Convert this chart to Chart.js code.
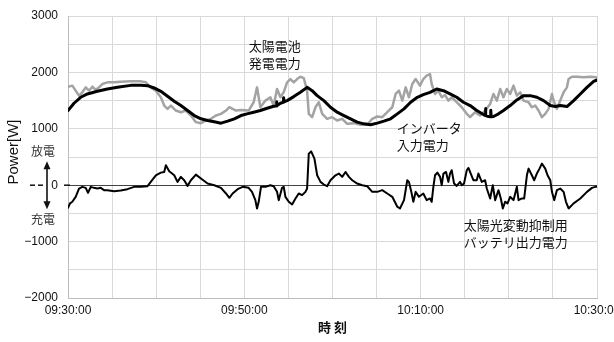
<!DOCTYPE html>
<html>
<head>
<meta charset="utf-8">
<script src="https://cdn.jsdelivr.net/npm/chart.js@4.4.1/dist/chart.umd.min.js"></script>
<style>
  html, body { margin: 0; padding: 0; background: #fff; overflow: hidden; }
  #wrap { width: 614px; height: 342px; }
</style>
</head>
<body>
<div id="wrap"><canvas id="c" width="614" height="342"></canvas></div>
<script>
// Time axis: minutes after 09:30:00, labelled every 20 minutes
const timeLabels = ['09:30:00', '09:50:00', '10:10:00', '10:30:00'];
const powerLabels = ['\u22122000', '\u22121000', '0', '1000', '2000', '3000'];

// 太陽電池発電電力 [minute, W]
const pvPower = [
  [0,1747],[0.49,1765],[0.87,1676],[1.25,1588],[1.63,1647],[2.01,1735],[2.39,1676],[2.76,1747],
  [3.14,1688],[3.52,1735],[3.9,1794],[4.47,1824],[5.23,1824],[5.98,1835],[7.12,1841],[8.26,1841],
  [8.83,1824],[9.39,1735],[9.96,1676],[10.53,1559],[10.91,1412],[11.29,1353],[11.67,1412],[12.23,1324],
  [12.8,1294],[13.37,1324],[13.94,1235],[14.51,1118],[15.08,1100],[15.64,1147],[16.21,1177],[16.78,1235],
  [17.35,1265],[17.92,1324],[18.3,1383],[18.67,1353],[19.05,1324],[19.62,1335],[20.49,1324],[21.06,1471],
  [21.44,1735],[21.82,1382],[22.39,1500],[22.95,1559],[23.33,1412],[23.71,1706],[24.09,1559],[24.47,1650],
  [24.85,1824],[25.23,1882],[25.61,1824],[25.98,1882],[26.36,1924],[26.74,1900],[27.12,1676],[27.31,1265],
  [27.69,1206],[28.07,1382],[28.45,1471],[28.83,1265],[29.39,1177],[29.96,1206],[30.53,1147],[31.1,1177],
  [31.67,1088],[32.42,1100],[33.18,1071],[33.94,1071],[34.51,1177],[35.08,1218],[35.64,1206],[36.21,1294],
  [36.78,1382],[37.16,1618],[37.54,1676],[37.92,1500],[38.3,1735],[38.67,1559],[39.05,1794],[39.43,1882],
  [39.92,1765],[40.3,1882],[40.68,1941],[41.06,1970],[41.25,1794],[41.63,1618],[42.01,1676],[42.39,1559],
  [42.76,1600],[43.14,1500],[43.52,1559],[44.09,1471],[44.66,1382],[45.23,1265],[45.61,1206],[46.17,1294],
  [46.74,1235],[47.31,1324],[47.88,1441],[48.26,1618],[48.64,1500],[49.02,1706],[49.39,1559],[49.77,1706],
  [50.15,1618],[50.53,1765],[50.91,1588],[51.29,1647],[51.67,1500],[52.24,1471],[52.61,1382],[52.99,1412],
  [53.37,1324],[53.75,1206],[54.13,1265],[54.51,1353],[54.89,1618],[55.08,1500],[55.45,1353],[55.83,1500],
  [56.21,1647],[56.59,1735],[56.78,1882],[57.16,1924],[57.73,1924],[58.48,1912],[59.24,1924],[60,1912]
];

// インバータ入力電力 [minute, W]
const inverterInput = [
  [0,1324],[0.68,1453],[1.44,1559],[2.2,1618],[3.33,1665],[4.47,1706],[5.61,1735],[7.12,1770],
  [8.26,1770],[9.02,1765],[9.77,1724],[10.53,1665],[11.29,1577],[12.05,1488],[12.8,1412],[13.56,1324],
  [14.32,1235],[15.08,1177],[15.83,1147],[16.59,1124],[17.35,1100],[18.11,1135],[18.86,1177],[19.62,1235],
  [20.3,1265],[21.06,1294],[21.82,1324],[22.58,1365],[23.33,1400],[23.6,1405],[23.65,1480],[23.7,1410],
  [24.09,1453],[24.4,1470],[24.45,1550],[24.5,1478],[24.85,1500],[25.61,1571],[26.36,1647],[27.12,1735],
  [27.69,1676],[28.26,1588],[29.02,1500],[29.77,1382],[30.53,1294],[31.29,1235],[32.05,1177],[32.8,1118],
  [33.56,1088],[34.32,1071],[35.08,1100],[35.83,1135],[36.59,1177],[37.35,1265],[38.11,1353],[38.86,1471],
  [39.62,1559],[40.3,1606],[41.06,1647],[41.82,1706],[42.58,1676],[43.33,1618],[44.09,1559],[44.85,1471],
  [45.61,1412],[46.36,1324],[47.12,1253],[47.3,1240],[47.35,1360],[47.4,1235],[47.69,1218],[47.9,1215],
  [47.95,1330],[48.0,1215],[48.26,1218],[48.83,1265],[49.39,1324],[50.15,1412],[50.91,1512],[51.67,1588],
  [52.42,1588],[53.18,1559],[53.94,1500],[54.7,1412],[55.27,1394],[55.83,1412],[56.59,1394],[57.35,1500],
  [58.11,1618],[58.86,1735],[59.62,1841],[60,1865]
];

// 太陽光変動抑制用バッテリ出力電力 [minute, W] (放電 +, 充電 −)
const batteryOutput = [
  [0,-400],[0.23,-323],[0.49,-294],[0.87,-206],[1.25,-59],[1.63,-29],[2.01,-47],[2.27,-135],
  [2.58,-29],[2.95,-47],[3.33,-59],[3.71,-47],[4.09,-88],[4.47,-88],[5.23,-106],[5.98,-94],
  [6.74,-70],[7.5,-29],[8.26,-29],[9.02,-18],[9.39,59],[9.96,176],[10.53,223],[10.91,235],
  [11.1,353],[11.48,247],[12.05,176],[12.42,59],[12.8,147],[13.18,88],[13.56,-12],[13.94,88],
  [14.51,188],[15.08,118],[15.83,29],[16.59,0],[17.35,-47],[17.92,-147],[18.3,-223],[18.67,-147],
  [19.24,-70],[19.81,-29],[20.49,-47],[20.87,-118],[21.25,-265],[21.44,-412],[21.63,-294],[21.89,-29],
  [22.39,-29],[22.95,0],[23.33,-18],[23.71,-118],[23.9,-265],[24.28,-47],[24.47,-29],[24.66,-206],
  [25.04,-294],[25.42,-341],[25.8,-235],[26.17,-147],[26.55,-176],[26.93,-118],[27.12,-59],[27.31,559],
  [27.58,600],[27.95,470],[28.26,176],[28.64,59],[29.02,12],[29.39,-18],[29.77,88],[30.34,176],
  [30.72,206],[31.1,147],[31.48,235],[31.86,147],[32.24,88],[32.8,29],[33.37,0],[33.94,-18],
  [34.51,-118],[35.08,-118],[35.64,-88],[36.21,-147],[36.78,-206],[37.35,-382],[37.65,-412],[38.11,-265],
  [38.48,88],[38.67,59],[38.94,-118],[39.17,-294],[39.43,-118],[39.81,-206],[40.3,-147],[40.68,-265],
  [41.06,-235],[41.25,-294],[41.44,-29],[41.63,176],[41.89,223],[42.2,147],[42.39,0],[42.58,206],
  [42.88,235],[43.14,59],[43.33,206],[43.52,265],[43.79,29],[44.09,-12],[44.47,59],[44.66,0],
  [44.92,29],[45.23,265],[45.42,306],[45.68,206],[45.98,88],[46.36,88],[46.55,206],[46.93,59],
  [47.31,88],[47.5,-59],[47.88,-235],[48.18,0],[48.45,-265],[48.83,-88],[49.09,-235],[49.32,-412],
  [49.58,-294],[49.85,-323],[50.15,-206],[50.53,-265],[50.91,-29],[51.1,-265],[51.48,-235],[51.74,-235],
  [52.05,176],[52.24,294],[52.61,176],[52.88,88],[53.18,206],[53.48,294],[53.75,382],[54.13,294],
  [54.39,176],[54.7,88],[54.89,-118],[55.15,-265],[55.45,-88],[55.83,-59],[56.21,-118],[56.48,-294],
  [56.78,-412],[57.35,-323],[58.11,-235],[58.86,-118],[59.43,-47],[59.81,-29],[60,-29]
];

const toPoints = arr => arr.map(([x, y]) => ({ x, y }));

const JP = '"Noto Sans CJK JP", "Noto Sans", sans-serif';
const LAT = '"Liberation Sans", Arial, sans-serif';

// Series captions, the power-axis title and the charge/discharge marker
const captions = {
  id: 'captions',
  afterDatasetsDraw(chart) {
    const { ctx, scales: { x, y } } = chart;
    ctx.save();
    ctx.fillStyle = '#111';
    ctx.textBaseline = 'middle';
    ctx.textAlign = 'left';
    ctx.font = '13px ' + JP;
    const put = (lines, t, w) => {
      const px = x.getPixelForValue(t), py = y.getPixelForValue(w);
      lines.forEach((s, i) => ctx.fillText(s, px, py + i * 17));
    };
    put(['太陽電池', '発電電力'], 20.5, 2470);
    put(['インバータ', '入力電力'], 37.3, 1010);
    put(['太陽光変動抑制用', 'バッテリ出力電力'], 44.9, -700);

    // power axis title
    ctx.save();
    ctx.translate(14, (y.top + y.bottom) / 2 - 5);
    ctx.rotate(-Math.PI / 2);
    ctx.textAlign = 'center';
    ctx.font = '15px ' + LAT;
    ctx.fillText('Power[W]', 0, 0);
    ctx.restore();

    // 放電 / 充電 arrow
    const y0 = y.getPixelForValue(0);
    const ax = 47;
    ctx.strokeStyle = '#111';
    ctx.fillStyle = '#111';
    ctx.lineWidth = 1.6;
    ctx.beginPath();
    ctx.moveTo(ax, y0 - 19);
    ctx.lineTo(ax, y0 + 19);
    ctx.stroke();
    ctx.beginPath();
    ctx.moveTo(ax, y0 - 24); ctx.lineTo(ax - 3.5, y0 - 16); ctx.lineTo(ax + 3.5, y0 - 16); ctx.closePath();
    ctx.fill();
    ctx.beginPath();
    ctx.moveTo(ax, y0 + 24); ctx.lineTo(ax - 3.5, y0 + 16); ctx.lineTo(ax + 3.5, y0 + 16); ctx.closePath();
    ctx.fill();
    // dashed zero marker
    ctx.lineWidth = 1.5;
    [[30, 35], [38, 43], [64, 70]].forEach(([a, b]) => {
      ctx.beginPath(); ctx.moveTo(a, y0); ctx.lineTo(b, y0); ctx.stroke();
    });
    ctx.font = '12px ' + JP;
    ctx.textAlign = 'center';
    ctx.fillStyle = '#333';
    ctx.fillText('放電', 43, y0 - 34);
    ctx.fillText('充電', 43, y0 + 34);
    ctx.restore();
  }
};

new Chart(document.getElementById('c'), {
  type: 'line',
  data: {
    datasets: [
      { label: 'インバータ入力電力', data: toPoints(inverterInput), borderColor: '#000', borderWidth: 3, order: 0 },
      { label: '太陽光変動抑制用バッテリ出力電力', data: toPoints(batteryOutput), borderColor: '#000', borderWidth: 2, order: 1 },
      { label: '太陽電池発電電力', data: toPoints(pvPower), borderColor: '#a3a3a3', borderWidth: 2.5, order: 2 }
    ]
  },
  options: {
    responsive: false,
    animation: false,
    devicePixelRatio: 1,
    elements: { point: { radius: 0 }, line: { tension: 0, borderJoinStyle: 'round', borderCapStyle: 'round' } },
    layout: { padding: { top: 16, right: 17, left: 0, bottom: 0 } },
    plugins: { legend: { display: false }, tooltip: { enabled: false } },
    scales: {
      x: {
        type: 'linear', min: 0, max: 60,
        ticks: {
          stepSize: 5, autoSkip: false, maxRotation: 0, padding: 5, color: '#111',
          font: { family: LAT, size: 12 },
          callback: v => (v % 20 === 0 ? timeLabels[v / 20] : '')
        },
        grid: { color: '#d9d9d9', drawTicks: false },
        border: { color: '#bdbdbd' },
        title: { display: true, text: '時 刻', color: '#111', font: { family: JP, size: 13, weight: 'bold' }, padding: { top: 0, bottom: 7 } },
        afterFit(s) { s.paddingLeft = 0; s.paddingRight = 0; s.height = 44; }
      },
      y: {
        min: -2000, max: 3000,
        ticks: {
          stepSize: 500, padding: 10, color: '#111',
          font: { family: LAT, size: 12 },
          callback: v => (v % 1000 === 0 ? powerLabels[(v + 2000) / 1000] : '')
        },
        grid: { color: ctx => (ctx.tick && ctx.tick.value === 0 ? '#444' : '#d9d9d9'), drawTicks: false },
        border: { color: '#bdbdbd' },
        afterFit(s) { s.width = 68; s.paddingTop = 0; s.paddingBottom = 0; }
      }
    }
  },
  plugins: [captions]
});
</script>
</body>
</html>
